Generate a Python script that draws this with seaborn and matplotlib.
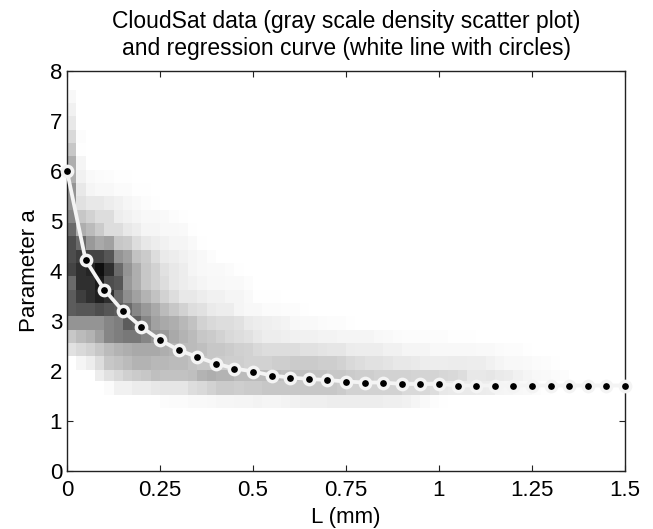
import numpy as np
import pandas as pd
import matplotlib
matplotlib.use("Agg")
import matplotlib.pyplot as plt
from matplotlib.colors import PowerNorm
import seaborn as sns

# Density bins: darkness (percent) by parameter-a row, one value per 0.025 mm of L
row_edges = [1.27, 1.53, 1.80, 2.03, 2.30, 2.57, 2.83, 3.10, 3.37, 3.63, 3.90, 4.17,
             4.43, 4.70, 4.97, 5.23, 5.50, 5.77, 6.03, 6.30, 6.57, 6.83, 7.10, 7.37, 7.63]
r0 = [0,0,0,0,0,0,0,0,0,0,3,4,4,5,5,6,7,7,8,8,9,8,8,9,10,11,11,11,12,12,12,12,12,12,11,11,10,8,5,3,2,1]
r1 = [0,0,0,0,4,10,10,13,13,15,16,16,16,20,22,25,28,28,27,28,28,30,30,30,30,30,30,30,30,28,25,25,25,25,25,25,22,22,22,20,15,14,14,14,13,12,8,7,6,5,3,2,1]
r2 = [0,0,0,12,18,22,26,28,30,33,32,32,32,33,38,40,38,38,35,35,35,35,35,33,33,33,32,32,30,30,28,27,27,25,25,25,25,24,24,24,23,22,20,15,15,16,14,13,10,8,6,5,4,3]
r3 = [0,8,12,20,30,32,35,38,38,36,36,35,35,32,30,30,28,27,27,25,25,25,27,27,28,28,28,27,27,25,22,20,18,18,17,15,15,14,12,12,12,13,13,12,12,10,8,6,6,5,4,3,2]
r4 = [18,22,25,30,35,38,40,42,42,42,40,38,35,35,33,30,30,28,26,25,22,20,20,20,20,18,18,17,16,16,13,12,12,12,10,10,8,8,8,6,6,6,6,6,5,5,4,3,3,2]
r5 = [30,35,38,45,55,58,60,60,55,50,48,42,38,35,30,28,25,22,20,18,15,12,12,11,10,10,10,9,9,8,8,8,8,6,5,4,3,3,3,3,3,2,2,2,1]
r6 = [50,50,50,50,55,58,70,68,55,45,42,40,36,32,25,22,20,20,18,14,12,11,10,9,6,5,5,4,3,3,2]
r7 = [70,72,72,75,72,70,65,55,48,42,35,30,25,20,18,14,12,12,8,6,6,4,4,3,3,2]
r8 = [70,80,85,90,85,65,52,45,38,32,25,20,15,15,12,10,10,8,8,5,2,2,2]
r9 = [65,85,85,92,75,72,48,40,30,25,20,15,12,10,8,6,6,5,5,3,1]
r10 = [78,85,88,95,85,65,50,40,30,25,18,15,12,8,6,5,5,4,2]
r11 = [75,80,78,78,72,50,45,32,28,20,14,12,10,8,6,3]
r12 = [75,65,48,42,45,30,28,20,15,12,10,8,8,5,2]
r13 = [65,40,35,28,20,20,15,12,8,8,6,6,5,2,1]
r14 = [55,30,25,20,20,12,10,8,6,6,5,3,2]
r15 = [50,18,15,15,12,10,7,5,3,2]
r16 = [50,15,8,6,6,4,4,2,2,1]
r17 = [40,10,5,4,3,2,2,1,1,1]
r18 = [40,8,1,0,1]
r19 = [30,2]
r20 = [22,3]
r21 = [15]
r22 = [10]
r23 = [6]
density_rows = [r0,r1,r2,r3,r4,r5,r6,r7,r8,r9,r10,r11,r12,r13,r14,r15,r16,r17,r18,r19,r20,r21,r22,r23]

# Regression curve
curve_L = [0,.05,.1,.15,.2,.25,.3,.35,.4,.45,.5,.55,.6,.65,.7,.75,.8,.85,.9,.95,1.0,
           1.05,1.1,1.15,1.2,1.25,1.3,1.35,1.4,1.45,1.5]
curve_a = [6.0,4.22,3.63,3.2,2.88,2.62,2.42,2.28,2.15,2.05,1.99,1.91,1.87,1.84,1.82,1.79,1.77,1.77,1.74,1.74,1.74,
           1.71,1.71,1.71,1.71,1.71,1.71,1.71,1.71,1.71,1.71]

x_ticks = [0,.25,.5,.75,1,1.25,1.5]
x_labels = ["0","0.25","0.5","0.75","1","1.25","1.5"]
y_ticks = [0,1,2,3,4,5,6,7,8]

sns.set_theme(style="white")
plt.rcParams['font.family'] = ['Liberation Sans', 'DejaVu Sans']

fig = plt.figure(figsize=(6.53, 5.29), dpi=100)
ax = fig.add_axes([67/653, 1-471/529, 558/653, 400/529])

n_cols = 60
Z = np.zeros((len(density_rows), n_cols))
for i, row in enumerate(density_rows):
    Z[i, :len(row)] = row
x_edges = np.arange(n_cols + 1) * 0.025
ax.pcolormesh(x_edges, row_edges, Z, cmap="gray_r", norm=PowerNorm(gamma=1.25, vmin=0, vmax=100),
              shading="flat", rasterized=True, zorder=1)

df = pd.DataFrame({"L": curve_L, "a": curve_a})
sns.lineplot(data=df, x="L", y="a", ax=ax, color="#F4F4F4", lw=2.7, marker="o",
             markersize=7.4, markerfacecolor="black", markeredgecolor="#F4F4F4",
             markeredgewidth=2.5, clip_on=False, zorder=5, errorbar=None)

ax.set_xlim(0, 1.5)
ax.set_ylim(0, 8)
ax.set_xticks(x_ticks)
ax.set_xticklabels(x_labels)
ax.set_yticks(y_ticks)
ax.tick_params(axis="both", direction="in", length=4, width=0.8, colors="#222222", labelcolor="black",
               labelsize=16, top=True, right=True, bottom=True, left=True)
ax.tick_params(axis="x", pad=6.5)
ax.tick_params(axis="y", pad=3.5)
for s in ax.spines.values():
    s.set_visible(True)
    s.set_color("#222222")
    s.set_linewidth(1.0)
ax.set_xlabel("L (mm)", fontsize=16, color="black", labelpad=4)
ax.set_ylabel("Parameter a", fontsize=16, color="black", labelpad=7)
ax.set_title("CloudSat data (gray scale density scatter plot)\nand regression curve (white line with circles)",
             fontsize=16.5, color="black", pad=11.5, linespacing=1.2)
fig.savefig("out.png", dpi=100)
